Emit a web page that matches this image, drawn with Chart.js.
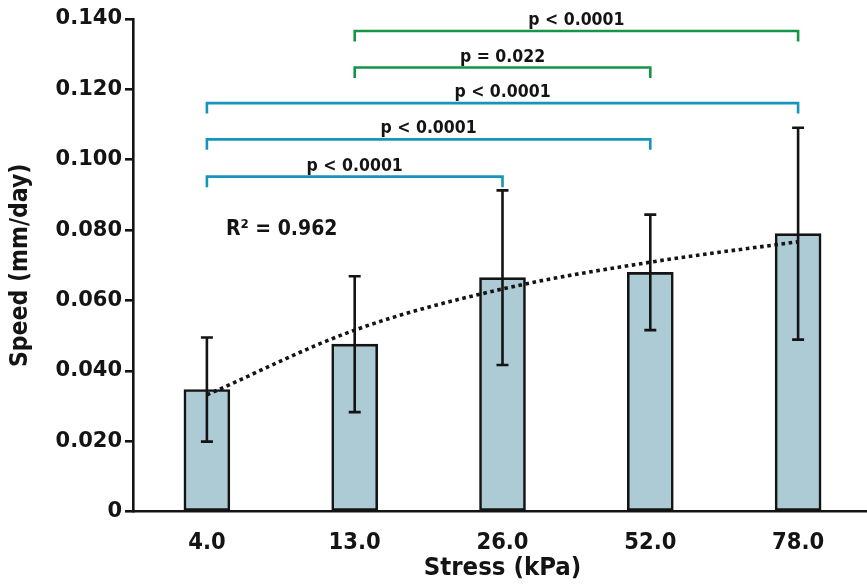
<!DOCTYPE html>
<html>
<head>
<meta charset="utf-8">
<script src="https://cdn.jsdelivr.net/npm/chart.js@4.4.1/dist/chart.umd.min.js"></script>
<style>
  html, body { margin: 0; padding: 0; background: #fff; overflow: hidden; }
</style>
</head>
<body>
<canvas id="bar-chart" width="872" height="584"></canvas>
<script>
// values
const stress = ["4.0", "13.0", "26.0", "52.0", "78.0"];
const speed = [0.0347, 0.0476, 0.0665, 0.068, 0.079];
const speedSd = [0.0148, 0.0193, 0.0248, 0.0164, 0.0301];
const trend = [0.0332, 0.0516, 0.0633, 0.0709, 0.0767];
const yTicks = ["0", "0.020", "0.040", "0.060", "0.080", "0.100", "0.120", "0.140"];

// significance brackets (category index from / to, height in mm/day)
const bracketFrom = [0, 0, 0, 1, 1];
const bracketTo = [2, 3, 4, 3, 4];
const bracketLevel = [0.0952, 0.1058, 0.1161, 0.1262, 0.1366];
const bracketText = ["p < 0.0001", "p < 0.0001", "p < 0.0001", "p = 0.022", "p < 0.0001"];
const rSquared = "R\u00B2 = 0.962";

const ink = "#141414";
const condensed = "'DejaVu Sans Condensed', 'DejaVu Sans'";

const errorBars = {
  id: "errorBars",
  afterDatasetsDraw(chart) {
    const { ctx } = chart;
    const x = chart.scales.x;
    const y = chart.scales.y;
    ctx.save();
    ctx.strokeStyle = ink;
    ctx.lineWidth = 2.6;
    speed.forEach((v, i) => {
      const px = x.getPixelForValue(i);
      const top = y.getPixelForValue(v + speedSd[i]);
      const bot = y.getPixelForValue(v - speedSd[i]);
      ctx.beginPath();
      ctx.moveTo(px, top);
      ctx.lineTo(px, bot);
      ctx.moveTo(px - 6, top);
      ctx.lineTo(px + 6, top);
      ctx.moveTo(px - 6, bot);
      ctx.lineTo(px + 6, bot);
      ctx.stroke();
    });
    ctx.restore();
  },
};

const brackets = {
  id: "brackets",
  afterDraw(chart, args, opts) {
    const { ctx } = chart;
    const x = chart.scales.x;
    const y = chart.scales.y;
    ctx.save();
    ctx.lineWidth = 2.6;
    ctx.lineJoin = "miter";
    ctx.font = "bold 17.5px " + condensed;
    ctx.textAlign = "center";
    ctx.textBaseline = "alphabetic";
    bracketFrom.forEach((from, i) => {
      const x1 = x.getPixelForValue(from);
      const x2 = x.getPixelForValue(bracketTo[i]);
      const py = y.getPixelForValue(bracketLevel[i]);
      ctx.strokeStyle = from === 0 ? opts.blue : opts.green;
      ctx.beginPath();
      ctx.moveTo(x1, py + 10.5);
      ctx.lineTo(x1, py);
      ctx.lineTo(x2, py);
      ctx.lineTo(x2, py + 10.5);
      ctx.stroke();
      ctx.fillStyle = ink;
      ctx.fillText(bracketText[i], (x1 + x2) / 2, py - 6);
    });
    // fit annotation
    ctx.font = "bold 21px " + condensed;
    ctx.textAlign = "left";
    ctx.fillText(rSquared, x.getPixelForValue(0) + 19, y.getPixelForValue(0.0785));
    ctx.restore();
  },
};

const chart = new Chart(document.getElementById("bar-chart"), {
  data: {
    labels: stress,
    datasets: [
      {
        type: "line",
        data: trend,
        borderColor: ink,
        borderWidth: 3.6,
        borderDash: [3.6, 3.6],
        borderCapStyle: "butt",
        pointRadius: 0,
        cubicInterpolationMode: "monotone",
        fill: false,
      },
      {
        type: "bar",
        data: speed,
        backgroundColor: "#adcbd5",
        borderColor: ink,
        borderWidth: 2.6,
        borderSkipped: false,
        barThickness: 46,
      },
    ],
  },
  options: {
    responsive: false,
    animation: false,
    layout: { padding: { top: 19, right: 0, bottom: 0, left: 0 } },
    plugins: {
      legend: { display: false },
      tooltip: { enabled: false },
      brackets: { blue: "#1795b8", green: "#169447" },
    },
    scales: {
      x: {
        grid: { display: false },
        border: { display: true, color: ink, width: 2.6 },
        ticks: {
          color: ink,
          padding: 9,
          font: { family: condensed, size: 23.5, weight: "bold" },
        },
        title: {
          display: true,
          text: "Stress (kPa)",
          color: ink,
          padding: { top: 0, bottom: 0 },
          font: { family: condensed, size: 25.5, weight: "bold" },
        },
        afterFit: (scale) => {
          scale.height = 72.3;
        },
      },
      y: {
        min: 0,
        max: 0.14,
        grid: {
          display: true,
          drawOnChartArea: false,
          drawTicks: true,
          tickLength: 8,
          color: ink,
          lineWidth: 2.6,
        },
        border: { display: true, color: ink, width: 2.6 },
        ticks: {
          stepSize: 0.02,
          color: ink,
          padding: 3,
          font: { family: "'DejaVu Sans'", size: 21, weight: "bold" },
          callback: (value, index) => yTicks[index],
        },
        title: {
          display: true,
          text: "Speed (mm/day)",
          color: ink,
          padding: { top: 6, bottom: 0 },
          font: { family: condensed, size: 24.5, weight: "bold" },
        },
        afterFit: (scale) => {
          scale.width = 133;
        },
      },
    },
  },
  plugins: [errorBars, brackets],
});
</script>
</body>
</html>
